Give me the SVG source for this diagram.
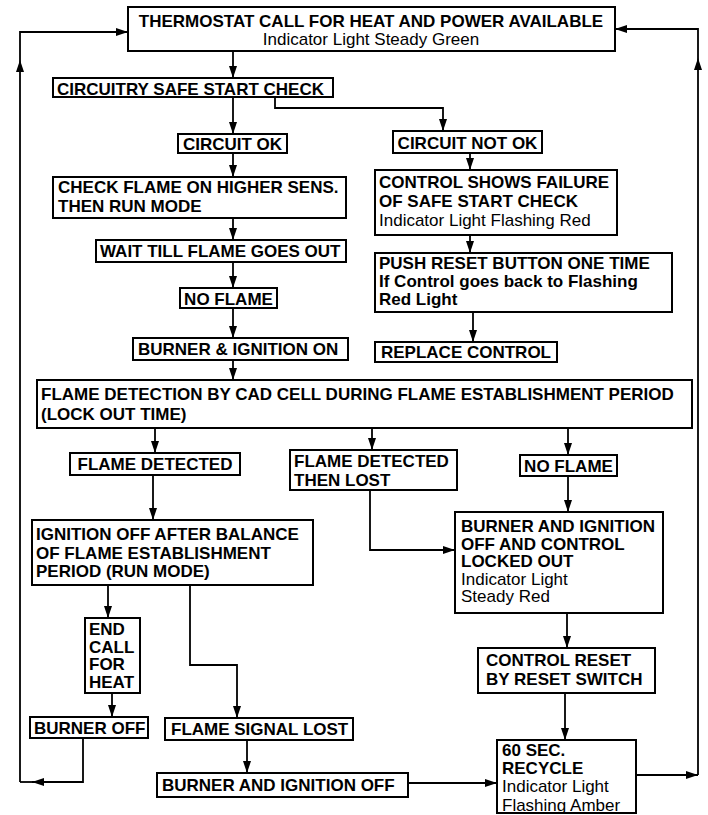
<svg xmlns="http://www.w3.org/2000/svg" width="708" height="815" viewBox="0 0 708 815">
<defs>
<marker id="arr" markerWidth="12" markerHeight="8" refX="12" refY="4" orient="auto" markerUnits="userSpaceOnUse" viewBox="0 0 12 8">
<path d="M0,0 L12,4 L0,8 Z" fill="#000"/>
</marker>
<style>
.box{fill:#fff;stroke:#000;stroke-width:2}
.t{font-family:"Liberation Sans",Arial,Helvetica,sans-serif;font-size:17px;font-weight:bold;fill:#000}
.r{font-weight:normal}
.m{text-anchor:middle}
.c{fill:none;stroke:#000;stroke-width:1.8}
.a{marker-end:url(#arr)}
</style>
</defs>
<rect width="708" height="815" fill="#fff"/>
<g id="connectors">
<path class="c a" d="M233,51 V78"/>
<path class="c a" d="M233,97 V134"/>
<path class="c a" d="M275,97 V108 H443 V131"/>
<path class="c a" d="M233,153 V177"/>
<path class="c a" d="M233,218 V240"/>
<path class="c a" d="M233,262 V288"/>
<path class="c a" d="M233,308 V338"/>
<path class="c a" d="M233,360 V380"/>
<path class="c a" d="M470,153 V170"/>
<path class="c a" d="M470,235 V253"/>
<path class="c a" d="M473,312 V342"/>
<path class="c a" d="M155,428 V453"/>
<path class="c a" d="M372,428 V450"/>
<path class="c a" d="M568,428 V455"/>
<path class="c a" d="M153,475 V520"/>
<path class="c a" d="M370,490 V550 H455"/>
<path class="c a" d="M568,476 V512"/>
<path class="c a" d="M567,613 V648"/>
<path class="c a" d="M565,693 V740"/>
<path class="c a" d="M108,585 V618"/>
<path class="c a" d="M190,585 V665 H237 V718"/>
<path class="c a" d="M112,693 V717"/>
<path class="c a" d="M247,740 V773"/>
<path class="c a" d="M408,783 H497"/>
<path class="c a" d="M83,738 V782 H32"/>
<path class="c" d="M32,782 H20"/>
<path class="c a" d="M20,782 V60"/>
<path class="c a" d="M20,60 V32 H128"/>
<path class="c a" d="M636,775 H698"/>
<path class="c a" d="M698,775 V58"/>
<path class="c a" d="M698,58 V29 H615"/>
</g>
<g id="thermostat">
<rect class="box" x="128" y="7" width="487" height="44"/>
<text class="t m" x="371" y="26.5" font-size="16.5">THERMOSTAT CALL FOR HEAT AND POWER AVAILABLE</text>
<text class="t r m" x="371" y="45" font-size="15.5">Indicator Light Steady Green</text>
</g>
<g id="safe-start">
<rect class="box" x="53" y="78" width="280" height="19"/>
<text class="t" x="57" y="94.5">CIRCUITRY SAFE START CHECK</text>
</g>
<g id="circuit-ok">
<rect class="box" x="178" y="134" width="109" height="19"/>
<text class="t m" x="232.5" y="150">CIRCUIT OK</text>
</g>
<g id="check-flame">
<rect class="box" x="53" y="177" width="293" height="41"/>
<text class="t" x="58" y="193">CHECK FLAME ON HIGHER SENS.</text>
<text class="t" x="58" y="212">THEN RUN MODE</text>
</g>
<g id="wait">
<rect class="box" x="96" y="240" width="250" height="22"/>
<text class="t" x="100" y="257" font-size="16.8">WAIT TILL FLAME GOES OUT</text>
</g>
<g id="no-flame-1">
<rect class="box" x="180" y="288" width="97" height="20"/>
<text class="t m" x="228.5" y="304.5">NO FLAME</text>
</g>
<g id="burner-on">
<rect class="box" x="133" y="338" width="215" height="22"/>
<text class="t" x="138" y="355">BURNER &amp; IGNITION ON</text>
</g>
<g id="flame-detection">
<rect class="box" x="37" y="380" width="655" height="48"/>
<text class="t" x="41" y="400" font-size="17.2">FLAME DETECTION BY CAD CELL DURING FLAME ESTABLISHMENT PERIOD</text>
<text class="t" x="41" y="420" font-size="17.2">(LOCK OUT TIME)</text>
</g>
<g id="circuit-not-ok">
<rect class="box" x="393" y="131" width="149" height="22"/>
<text class="t m" x="467.5" y="148.5">CIRCUIT NOT OK</text>
</g>
<g id="failure">
<rect class="box" x="375" y="170" width="242" height="65"/>
<text class="t" x="379" y="188">CONTROL SHOWS FAILURE</text>
<text class="t" x="379" y="207">OF SAFE START CHECK</text>
<text class="t r" x="379" y="226">Indicator Light Flashing Red</text>
</g>
<g id="push-reset">
<rect class="box" x="375" y="253" width="297" height="59"/>
<text class="t" x="379" y="269">PUSH RESET BUTTON ONE TIME</text>
<text class="t" x="379" y="287">If Control goes back to Flashing</text>
<text class="t" x="379" y="305">Red Light</text>
</g>
<g id="replace">
<rect class="box" x="375" y="342" width="182" height="20"/>
<text class="t" x="381" y="358">REPLACE CONTROL</text>
</g>
<g id="flame-detected">
<rect class="box" x="70" y="453" width="170" height="22"/>
<text class="t m" x="155" y="470">FLAME DETECTED</text>
</g>
<g id="detected-lost">
<rect class="box" x="290" y="450" width="167" height="40"/>
<text class="t" x="294" y="467">FLAME DETECTED</text>
<text class="t" x="294" y="486">THEN LOST</text>
</g>
<g id="no-flame-2">
<rect class="box" x="520" y="455" width="97" height="21"/>
<text class="t m" x="568.5" y="472">NO FLAME</text>
</g>
<g id="ignition-off">
<rect class="box" x="32" y="520" width="281" height="65"/>
<text class="t" x="36" y="540">IGNITION OFF AFTER BALANCE</text>
<text class="t" x="36" y="558.5">OF FLAME ESTABLISHMENT</text>
<text class="t" x="36" y="577">PERIOD (RUN MODE)</text>
</g>
<g id="lockout">
<rect class="box" x="455" y="512" width="208" height="101"/>
<text class="t" x="461" y="532">BURNER AND IGNITION</text>
<text class="t" x="461" y="549.5">OFF AND CONTROL</text>
<text class="t" x="461" y="567">LOCKED OUT</text>
<text class="t r" x="461" y="584.5">Indicator Light</text>
<text class="t r" x="461" y="602">Steady Red</text>
</g>
<g id="end-call">
<rect class="box" x="85" y="618" width="55" height="75"/>
<text class="t" x="89" y="635">END</text>
<text class="t" x="89" y="652.5">CALL</text>
<text class="t" x="89" y="670">FOR</text>
<text class="t" x="89" y="687.5">HEAT</text>
</g>
<g id="burner-off">
<rect class="box" x="30" y="717" width="118" height="21"/>
<text class="t" x="34" y="733.5">BURNER OFF</text>
</g>
<g id="signal-lost">
<rect class="box" x="165" y="718" width="188" height="22"/>
<text class="t" x="171" y="735">FLAME SIGNAL LOST</text>
</g>
<g id="burner-ignition-off">
<rect class="box" x="157" y="773" width="251" height="24"/>
<text class="t" x="162" y="791">BURNER AND IGNITION OFF</text>
</g>
<g id="control-reset">
<rect class="box" x="478" y="648" width="177" height="45"/>
<text class="t" x="486" y="666">CONTROL RESET</text>
<text class="t" x="486" y="685">BY RESET SWITCH</text>
</g>
<g id="recycle">
<rect class="box" x="497" y="740" width="139" height="73"/>
<text class="t" x="502" y="756" font-size="16.5">60 SEC.</text>
<text class="t" x="502" y="774" font-size="16.5">RECYCLE</text>
<text class="t r" x="502" y="792" font-size="16">Indicator Light</text>
<text class="t r" x="502" y="810.5" font-size="16">Flashing Amber</text>
</g>
</svg>
